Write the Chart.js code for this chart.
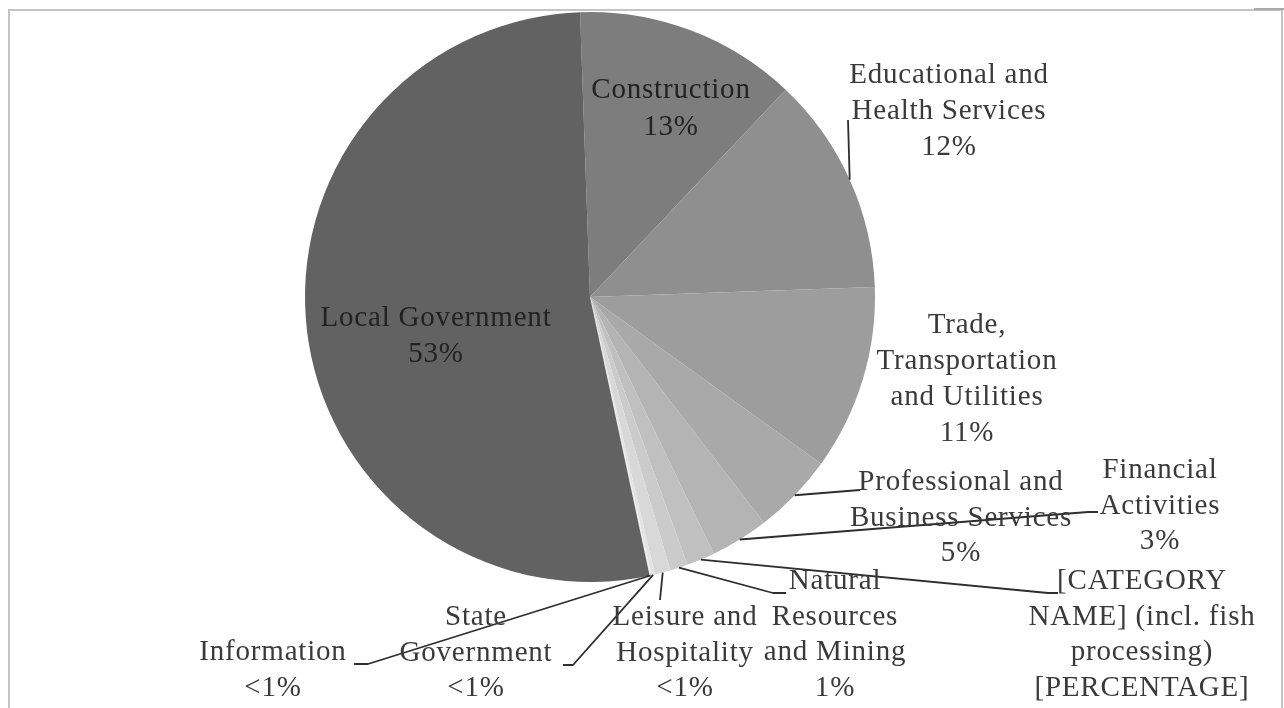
<!DOCTYPE html>
<html>
<head>
<meta charset="utf-8">
<script src="https://cdn.jsdelivr.net/npm/chart.js@4.4.1/dist/chart.umd.min.js"></script>
<style>
  html, body { margin: 0; padding: 0; background: #ffffff; }
  #wrap { position: relative; width: 1284px; height: 708px; }
  canvas { display: block; }
</style>
</head>
<body>
<div id="wrap"><canvas id="pie" width="1284" height="708"></canvas></div>
<script>
// Employment share by industry (percent of total)
const categories = [
  "Construction",
  "Educational and Health Services",
  "Trade, Transportation and Utilities",
  "Professional and Business Services",
  "Financial Activities",
  "[CATEGORY NAME] (incl. fish processing)",
  "Natural Resources and Mining",
  "Leisure and Hospitality",
  "State Government",
  "Information",
  "Local Government"
];
const shares = [12.6, 12.4, 10.5, 4.6, 3.3, 1.6, 1.0, 0.9, 0.2, 0.1, 52.8];
const shareLabels = ["13%", "12%", "11%", "5%", "3%", "[PERCENTAGE]", "1%", "<1%", "<1%", "<1%", "53%"];
const sliceColors = ["#7d7d7d", "#8f8f8f", "#9d9d9d", "#a9a9a9", "#b4b4b4", "#c0c0c0",
                     "#cbcbcb", "#d8d8d8", "#e3e3e3", "#ececec", "#626262"];

// How each category name wraps onto lines
const nameLines = [
  ["Construction"],
  ["Educational and", "Health Services"],
  ["Trade,", "Transportation", "and Utilities"],
  ["Professional and", "Business Services"],
  ["Financial", "Activities"],
  ["[CATEGORY", "NAME] (incl. fish", "processing)"],
  ["Natural", "Resources", "and Mining"],
  ["Leisure and", "Hospitality"],
  ["State", "Government"],
  ["Information"],
  ["Local Government"]
];

// Label block placement: centre x, first baseline, line step, colour, leader path
const labelLayout = [
  { x: 671,  y: 98,  step: 37,  color: "#222222", leader: null },
  { x: 949,  y: 83,  step: 36,  color: "#3a3a3a", leader: [[848, 120]] },
  { x: 967,  y: 333, step: 36,  color: "#3a3a3a", leader: null },
  { x: 961,  y: 490, step: 35.5, color: "#3a3a3a", leader: [[860, 490]] },
  { x: 1160, y: 478, step: 35.5, color: "#3a3a3a", leader: [[1088, 512], [1098, 512]] },
  { x: 1142, y: 589, step: 35.5, color: "#3a3a3a", leader: [[1048, 593], [1058, 593]] },
  { x: 835,  y: 589, step: 35.5, color: "#3a3a3a", leader: [[773, 593], [786, 593]] },
  { x: 685,  y: 625, step: 35.5, color: "#3a3a3a", leader: [[660, 600]] },
  { x: 476,  y: 625, step: 35.5, color: "#3a3a3a", leader: [[573, 665], [563, 665]] },
  { x: 273,  y: 660, step: 35.5, color: "#3a3a3a", leader: [[368, 664], [354, 664]] },
  { x: 436,  y: 326, step: 36,  color: "#222222", leader: null }
];

const FONT = '29px "Liberation Serif", "Times New Roman", serif';

const framePlugin = {
  id: 'frame',
  beforeDraw(chart) {
    const ctx = chart.ctx;
    ctx.save();
    ctx.strokeStyle = '#c4c4c4';
    ctx.lineWidth = 2;
    ctx.beginPath();
    ctx.moveTo(9, 708);
    ctx.lineTo(9, 10);
    ctx.lineTo(1282, 10);
    ctx.lineTo(1282, 708);
    ctx.stroke();
    ctx.strokeStyle = '#a8a8a8';
    ctx.beginPath();
    ctx.moveTo(1254, 9);
    ctx.lineTo(1284, 9);
    ctx.stroke();
    ctx.restore();
  }
};

const sliceLabelPlugin = {
  id: 'sliceLabels',
  afterDatasetsDraw(chart) {
    const ctx = chart.ctx;
    const arcs = chart.getDatasetMeta(0).data;
    ctx.save();
    // leader lines from the middle of each slice's rim
    ctx.strokeStyle = '#2e2e2e';
    ctx.lineWidth = 1.8;
    ctx.lineJoin = 'round';
    arcs.forEach((arc, i) => {
      const lay = labelLayout[i];
      if (!lay.leader) return;
      const p = arc.getProps(['x', 'y', 'startAngle', 'endAngle', 'outerRadius'], true);
      const mid = (p.startAngle + p.endAngle) / 2;
      const sx = p.x + Math.cos(mid) * p.outerRadius;
      const sy = p.y + Math.sin(mid) * p.outerRadius;
      ctx.beginPath();
      ctx.moveTo(sx, sy);
      lay.leader.forEach(pt => ctx.lineTo(pt[0], pt[1]));
      ctx.stroke();
    });
    // text blocks: name lines then share
    ctx.font = FONT;
    ctx.textAlign = 'center';
    ctx.textBaseline = 'alphabetic';
    try { ctx.letterSpacing = '0.8px'; } catch (e) {}
    arcs.forEach((arc, i) => {
      const lay = labelLayout[i];
      const lines = nameLines[i].concat([shareLabels[i]]);
      ctx.fillStyle = lay.color;
      lines.forEach((t, k) => ctx.fillText(t, lay.x, lay.y + k * lay.step));
    });
    ctx.restore();
  }
};

new Chart(document.getElementById('pie'), {
  type: 'pie',
  data: {
    labels: categories,
    datasets: [{
      data: shares,
      backgroundColor: sliceColors,
      borderWidth: 0
    }]
  },
  options: {
    responsive: false,
    animation: false,
    rotation: -2,
    layout: { padding: { left: 305, right: 409, top: 12, bottom: 126 } },
    plugins: {
      legend: { display: false },
      tooltip: { enabled: false }
    }
  },
  plugins: [framePlugin, sliceLabelPlugin]
});
</script>
</body>
</html>
